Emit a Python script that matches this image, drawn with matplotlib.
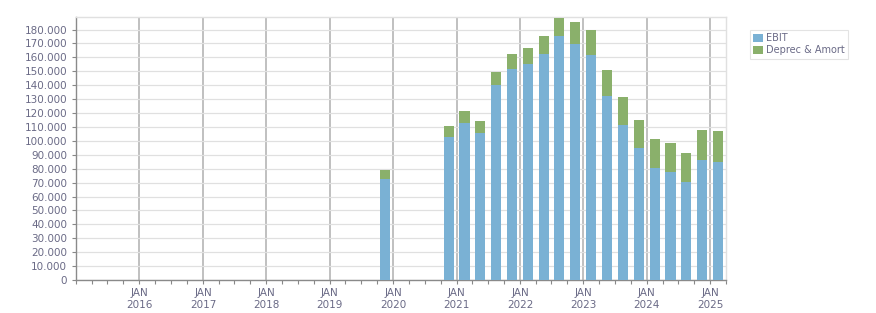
import matplotlib
matplotlib.use('Agg')
import matplotlib.pyplot as plt
import matplotlib.dates as mdates
import numpy as np
import pandas as pd
from matplotlib.ticker import FuncFormatter, MultipleLocator

# quarterly data (bars centred on the middle of each quarter)
quarters = ['2019Q4',
            '2020Q4', '2021Q1', '2021Q2', '2021Q3', '2021Q4',
            '2022Q1', '2022Q2', '2022Q3', '2022Q4', '2023Q1',
            '2023Q2', '2023Q3', '2023Q4', '2024Q1', '2024Q2',
            '2024Q3', '2024Q4', '2025Q1']
ebit = [72500,
        102700, 112700, 105500, 140000, 151500,
        155300, 162200, 175400, 169600, 161500,
        132100, 111300, 94800, 80600, 77500,
        70400, 86100, 84700]
deprec_amort = [6500,
                7900, 8600, 8600, 9300, 10700,
                11200, 13000, 12700, 15600, 18000,
                18700, 20100, 20100, 20600, 20800,
                20800, 21600, 22300]
year_labels = list(range(2016, 2026))

ebit_color = '#7ab1d4'
da_color = '#8ab06b'
text_color = '#6a6a86'

# positions of the bars from the quarter periods
periods = pd.PeriodIndex(quarters, freq='Q')
starts = periods.start_time
ends = periods.end_time
centers = [s + (e - s) / 2 for s, e in zip(starts, ends)]
x = mdates.date2num(pd.DatetimeIndex(centers).to_pydatetime())

plt.rcParams['font.family'] = 'DejaVu Sans'
fig = plt.figure(figsize=(8.76, 3.13), dpi=100)
ax = fig.add_axes([76 / 876, 1 - 280 / 313, 650 / 876, 263 / 313])

bar_w = 58
ax.bar(x, ebit, width=bar_w, color=ebit_color, label='EBIT', zorder=3)
ax.bar(x, deprec_amort, width=bar_w, bottom=ebit, color=da_color,
       label='Deprec & Amort', zorder=3)

ax.set_xlim(mdates.date2num(pd.Timestamp('2015-01-01')),
            mdates.date2num(pd.Timestamp('2025-04-01')))
ax.set_ylim(0, 189000)

# y axis
ax.yaxis.set_major_locator(MultipleLocator(10000))
ax.yaxis.set_major_formatter(FuncFormatter(lambda v, p: f'{int(v):,}'.replace(',', '.')))
ax.grid(axis='y', color='#e0e0e0', linewidth=0.9, zorder=0)

# x axis: january of each year, quarterly minor ticks
jan_pos = [mdates.date2num(pd.Timestamp(f'{y}-01-01')) for y in year_labels]
ax.set_xticks(jan_pos)
ax.set_xticklabels([f'JAN\n{y}' for y in year_labels])
ax.xaxis.set_minor_locator(mdates.MonthLocator(bymonth=[1, 4, 7, 10]))
for p in jan_pos:
    ax.axvline(p, color='#b5b5b5', linewidth=1.2, zorder=1)

ax.tick_params(axis='both', which='both', colors='#888888', labelcolor=text_color,
               labelsize=7.5, direction='out', length=3, width=0.8)
ax.tick_params(axis='x', pad=3)

for side in ['left', 'bottom']:
    ax.spines[side].set_color('#8a8a8a')
    ax.spines[side].set_linewidth(1.0)
for side in ['top', 'right']:
    ax.spines[side].set_color('#e0e0e0')
    ax.spines[side].set_linewidth(1.0)

leg = ax.legend(loc='upper left', bbox_to_anchor=(750 / 876, 1 - 30 / 313),
                bbox_transform=fig.transFigure, fontsize=7, frameon=True,
                fancybox=False, borderpad=0.35, handlelength=1.0, handleheight=1.0,
                handletextpad=0.3, labelspacing=0.2, borderaxespad=0)
leg.get_frame().set_edgecolor('#dddddd')
leg.get_frame().set_linewidth(0.8)
for t in leg.get_texts():
    t.set_color(text_color)

plt.savefig('out.png', dpi=100, facecolor='white')
plt.close()
